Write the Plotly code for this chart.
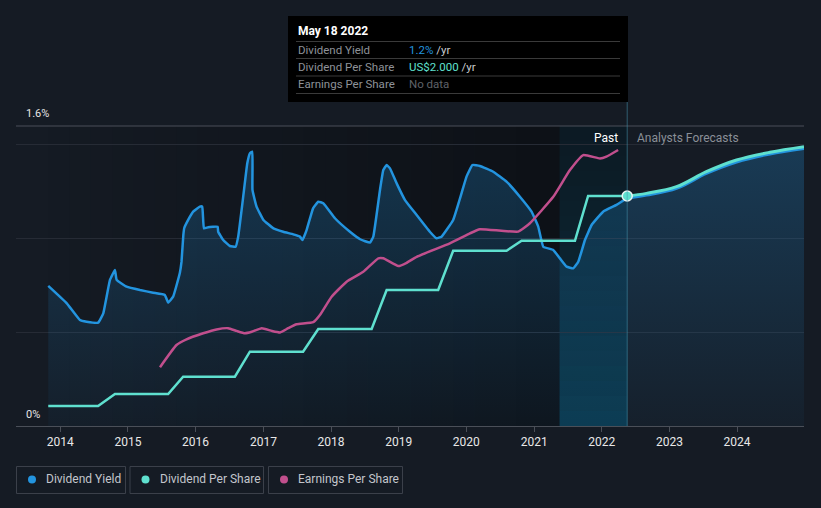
import plotly.graph_objects as go
import pandas as pd

# === DATA ===
# Dividend yield (%) - history
yield_dates = ["2013-10-28", "2014-02-05", "2014-04-17", "2014-05-23", "2014-07-24", "2014-08-21",
               "2014-09-26", "2014-10-23", "2014-11-01", "2014-12-25", "2015-03-07", "2015-05-17",
               "2015-07-19", "2015-08-06", "2015-09-02", "2015-10-08", "2015-10-17", "2015-10-27",
               "2015-11-01", "2015-11-22", "2015-12-19", "2016-01-24", "2016-02-06", "2016-02-15",
               "2016-03-09", "2016-04-29", "2016-05-02", "2016-05-29", "2016-07-04", "2016-08-04",
               "2016-08-18", "2016-09-14", "2016-10-06", "2016-10-20", "2016-11-02", "2016-11-03",
               "2016-11-25", "2017-01-01", "2017-02-24", "2017-04-18", "2017-06-11", "2017-07-17",
               "2017-07-31", "2017-08-22", "2017-09-26", "2017-10-24", "2017-11-20", "2018-01-22",
               "2018-04-13", "2018-06-07", "2018-07-30", "2018-08-17", "2018-09-22", "2018-10-10",
               "2018-10-28", "2018-11-15", "2018-12-21", "2019-02-04", "2019-04-08", "2019-06-18",
               "2019-07-24", "2019-08-20", "2019-10-22", "2019-12-06", "2020-01-02", "2020-02-03",
               "2020-03-14", "2020-05-25", "2020-08-05", "2020-10-16", "2020-12-18", "2021-01-23",
               "2021-02-19", "2021-04-14", "2021-05-20", "2021-06-25", "2021-07-31", "2021-08-27",
               "2021-10-02", "2021-11-07", "2022-01-08", "2022-03-21", "2022-05-18"]
yield_vals = [0.747, 0.654, 0.565, 0.556, 0.551, 0.601,
              0.779, 0.832, 0.779, 0.743, 0.725, 0.711,
              0.699, 0.658, 0.690, 0.816, 0.875, 1.019,
              1.056, 1.099, 1.143, 1.170, 1.170, 1.054,
              1.060, 1.063, 1.036, 0.992, 0.960, 0.956,
              1.010, 1.223, 1.401, 1.454, 1.463, 1.259,
              1.170, 1.099, 1.054, 1.036, 1.022, 1.010,
              0.992, 1.045, 1.161, 1.196, 1.188, 1.108,
              1.036, 0.996, 0.978, 1.010, 1.259, 1.365,
              1.392, 1.374, 1.294, 1.205, 1.125, 1.036,
              1.001, 1.010, 1.099, 1.241, 1.330, 1.392,
              1.387, 1.356, 1.303, 1.223, 1.143, 1.063,
              0.956, 0.939, 0.894, 0.850, 0.841, 0.876,
              0.992, 1.072, 1.143, 1.179, 1.216]

# Dividend yield (%) - analysts forecasts
yield_fc_dates = ["2022-05-18", "2022-08-30", "2023-02-08", "2023-07-19", "2023-12-29", "2024-06-26", "2024-12-27"]
yield_fc_vals = [1.216, 1.232, 1.267, 1.347, 1.408, 1.451, 1.480]

# Dividend per share (US$) - history
dps_dates = ["2013-10-28", "2014-07-24", "2014-10-23", "2015-08-06", "2015-10-26", "2016-07-31",
             "2016-10-20", "2017-08-03", "2017-10-24", "2018-08-08", "2018-10-28", "2019-08-02",
             "2019-10-22", "2020-08-05", "2020-10-25", "2021-08-09", "2021-10-19", "2022-05-18"]
dps_vals = [0.174, 0.174, 0.278, 0.278, 0.429, 0.429,
            0.646, 0.646, 0.843, 0.843, 1.183, 1.183,
            1.524, 1.524, 1.611, 1.611, 2.000, 2.000]

# Dividend per share (US$) - analysts forecasts
dps_fc_dates = ["2022-05-18", "2022-08-30", "2023-02-08", "2023-07-19", "2023-12-29", "2024-06-26", "2024-12-27"]
dps_fc_vals = [2.000, 2.023, 2.081, 2.211, 2.313, 2.380, 2.429]

# Earnings per share (US$)
eps_dates = ["2015-06-23", "2015-09-20", "2015-11-13", "2016-02-11", "2016-04-23", "2016-06-25",
             "2016-08-09", "2016-09-23", "2016-10-30", "2016-12-23", "2017-02-15", "2017-04-01",
             "2017-05-15", "2017-06-29", "2017-09-27", "2017-11-02", "2018-01-04", "2018-03-26",
             "2018-06-24", "2018-09-13", "2018-10-10", "2018-12-30", "2019-02-13", "2019-04-08",
             "2019-10-04", "2020-01-20", "2020-03-14", "2020-10-07", "2020-12-09", "2021-04-14",
             "2021-07-13", "2021-09-23", "2021-12-22", "2022-01-26", "2022-03-30"]
eps_vals = [1.96, 2.70, 2.89, 3.09, 3.22, 3.26,
            3.17, 3.09, 3.14, 3.26, 3.17, 3.12,
            3.26, 3.39, 3.46, 3.70, 4.31, 4.81,
            5.14, 5.59, 5.59, 5.33, 5.44, 5.64,
            6.09, 6.42, 6.56, 6.48, 6.76, 7.64,
            8.53, 9.03, 8.92, 8.98, 9.20]

tick_years = list(range(2014, 2025))
x_range = ["2013-05-07", "2024-12-27"]
past_start = "2013-10-28"
band_start = "2021-05-18"
today = "2022-05-18"

# === STYLE ===
BG = "#151b24"
BLUE = "#2394df"
CYAN = "#5fe0cf"
PINK = "#c14f8d"
W, H = 821, 508
L, R, T, B = 16, 804, 126, 426


def px(x):
    return (x - L) / (R - L)


def py(y):
    return (B - y) / (B - T)


fig = go.Figure()

grad = dict(type="vertical",
            colorscale=[[0, "rgba(35,148,223,0.04)"], [1, "rgba(35,148,223,0.26)"]])

fig.add_trace(go.Scatter(x=yield_dates, y=yield_vals, mode="lines", fill="tozeroy",
                         fillgradient=grad, line=dict(color=BLUE, width=2.5, shape="spline", smoothing=0.3),
                         name="Dividend Yield", hoverinfo="skip"))
fig.add_trace(go.Scatter(x=yield_fc_dates, y=yield_fc_vals, mode="lines", fill="tozeroy",
                         fillgradient=grad, line=dict(color=BLUE, width=3, shape="spline"),
                         showlegend=False, hoverinfo="skip"))
fig.add_trace(go.Scatter(x=eps_dates, y=eps_vals, yaxis="y3", mode="lines",
                         line=dict(color=PINK, width=2.5, shape="spline", smoothing=0.4),
                         name="Earnings Per Share", hoverinfo="skip"))
fig.add_trace(go.Scatter(x=dps_dates, y=dps_vals, yaxis="y2", mode="lines",
                         line=dict(color=CYAN, width=2.5),
                         name="Dividend Per Share", hoverinfo="skip"))
fig.add_trace(go.Scatter(x=dps_fc_dates, y=dps_fc_vals, yaxis="y2", mode="lines",
                         line=dict(color=CYAN, width=3, shape="spline"),
                         showlegend=False, hoverinfo="skip"))
fig.add_trace(go.Scatter(x=[today], y=[dps_vals[-1]], yaxis="y2", mode="markers",
                         marker=dict(color=CYAN, size=10, line=dict(color="#e8f4f4", width=1.5)),
                         showlegend=False, hoverinfo="skip"))

shapes = []
# darkening gradient over the past
edges = pd.date_range(past_start, band_start, periods=25)
for i in range(len(edges) - 1):
    a = 0.36 * (i + 1) / (len(edges) - 1)
    shapes.append(dict(type="rect", xref="x", yref="y", x0=edges[i], x1=edges[i + 1], y0=0, y1=1.6,
                       fillcolor=f"rgba(0,0,0,{a:.3f})", line_width=0, layer="below"))
shapes.append(dict(type="rect", xref="x", yref="y", x0=band_start, x1=today, y0=0, y1=1.6,
                   fillcolor="rgba(0,0,0,0.36)", line_width=0, layer="below"))
# last year band (teal, brighter at bottom)
n = 20
for i in range(n):
    a = 0.12 + 0.36 * ((n - i) / n) ** 1.6
    shapes.append(dict(type="rect", xref="x", yref="y", x0=band_start, x1=today,
                       y0=1.6 * i / n, y1=1.6 * (i + 1) / n,
                       fillcolor=f"rgba(10,100,135,{a:.3f})", line_width=0, layer="below"))
# top border line
shapes.append(dict(type="line", xref="paper", yref="paper", x0=0, x1=1, y0=1, y1=1,
                   line=dict(color="#4a4f58", width=1)))
# today line
shapes.append(dict(type="line", xref="x", yref="paper", x0=today, x1=today, y0=0, y1=py(102),
                   line=dict(color="rgba(70,150,175,0.55)", width=1)))
# tooltip box
shapes.append(dict(type="rect", xref="paper", yref="paper", x0=px(288), x1=px(628), y0=py(102), y1=py(16),
                   fillcolor="#000000", line_width=0))
for yy in [41.5, 58.5, 76, 93.5]:
    shapes.append(dict(type="line", xref="paper", yref="paper", x0=px(296), x1=px(620), y0=py(yy), y1=py(yy),
                       line=dict(color="#3a3a3a", width=1)))
# legend boxes
legend_items = [("Dividend Yield", BLUE, 16.5, 125.5), ("Dividend Per Share", CYAN, 130, 263.5),
                ("Earnings Per Share", PINK, 268.5, 402.5)]
for label, col, x0, x1 in legend_items:
    shapes.append(dict(type="rect", xref="paper", yref="paper", x0=px(x0), x1=px(x1), y0=py(493.5), y1=py(466.5),
                       line=dict(color="#3b404a", width=1), fillcolor="rgba(0,0,0,0)"))
    shapes.append(dict(type="circle", xref="paper", yref="paper", x0=px(x0 + 11.5), x1=px(x0 + 19.5),
                       y0=py(483.5), y1=py(475.5), fillcolor=col, line_width=0))

annotations = []
txt = dict(xref="paper", yref="paper", showarrow=False, xanchor="left", yanchor="middle")
annotations.append(dict(txt, x=px(296), y=py(31), text="<b>May 18 2022</b>", font=dict(color="#ffffff", size=12)))
rows = [("Dividend Yield", f"<span style='color:{BLUE}'>1.2%</span> /yr", 49.5),
        ("Dividend Per Share", f"<span style='color:{CYAN}'>US$2.000</span> /yr", 66.5),
        ("Earnings Per Share", "<span style='color:#5f6268'>No data</span>", 84.5)]
for lab, val, yy in rows:
    annotations.append(dict(txt, x=px(296), y=py(yy), text=lab, font=dict(color="#8e9298", size=11.5)))
    annotations.append(dict(txt, x=px(407), y=py(yy), text=val, font=dict(color="#c9cbcf", size=11.5)))
annotations.append(dict(txt, x=px(24), y=py(114), text="1.6%", font=dict(color="#e6e6e6", size=11)))
annotations.append(dict(txt, x=px(24), y=py(414), text="0%", font=dict(color="#e6e6e6", size=11)))
annotations.append(dict(txt, x=px(620), y=py(138), xanchor="right", text="Past",
                        font=dict(color="#ffffff", size=12)))
annotations.append(dict(txt, x=px(635), y=py(138), text="Analysts Forecasts",
                        font=dict(color="#8a8f97", size=12)))
for label, col, x0, x1 in legend_items:
    annotations.append(dict(txt, x=px(x0 + 27.5), y=py(479.5), text=label, font=dict(color="#c3c6cc", size=12)))

fig.update_layout(
    width=W, height=H,
    paper_bgcolor=BG, plot_bgcolor=BG,
    margin=dict(l=L, r=W - R, t=T, b=H - B),
    font=dict(family="Roboto, sans-serif", color="#e6e6e6"),
    showlegend=False,
    hovermode=False,
    xaxis=dict(type="date", range=x_range, showgrid=False, zeroline=False,
               tickvals=[f"{y}-01-01" for y in tick_years], ticktext=[str(y) for y in tick_years],
               ticks="outside", ticklen=5, tickcolor="#4a4f58", tickfont=dict(size=12, color="#e8e8e8"),
               showline=True, linecolor="#4a4f58", linewidth=1),
    yaxis=dict(range=[0, 1.6], tickvals=[0.5, 1.0, 1.5], showticklabels=False,
               gridcolor="#262b35", gridwidth=1, zeroline=False),
    yaxis2=dict(range=[0, 2.6087], overlaying="y", visible=False),
    yaxis3=dict(range=[0, 10], overlaying="y", visible=False),
    shapes=shapes,
    annotations=annotations,
)

fig.write_html("out.html", config={"displayModeBar": False},
               post_script="document.body.style.margin='0';document.body.style.background='#151b24';")
